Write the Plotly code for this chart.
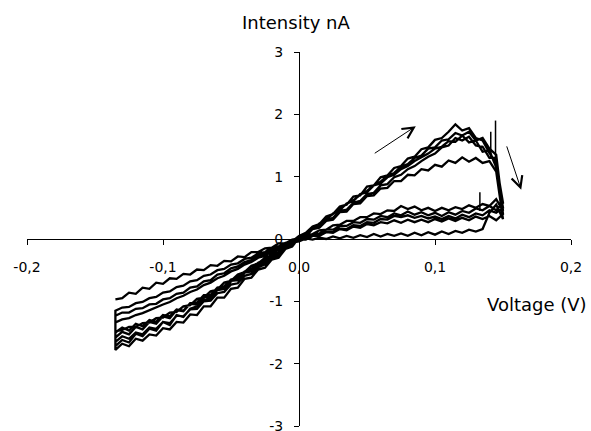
import plotly.graph_objects as go

# Voltage sweeps (V)
V_SWEEP_UP = [-0.135, -0.130, -0.125, -0.120, -0.115, -0.110, -0.105, -0.100, -0.095, -0.090,
              -0.085, -0.080, -0.075, -0.070, -0.065, -0.060, -0.055, -0.050, -0.045, -0.040,
              -0.035, -0.030, -0.025, -0.020, -0.015, -0.010, -0.005, 0.000, 0.005, 0.010,
              0.015, 0.020, 0.025, 0.030, 0.035, 0.040, 0.045, 0.050, 0.055, 0.060,
              0.065, 0.070, 0.075, 0.080, 0.085, 0.090, 0.095, 0.100, 0.105, 0.110,
              0.115, 0.120, 0.125, 0.130, 0.135, 0.140, 0.145, 0.150]
V_SWEEP_DOWN = [0.150, 0.145, 0.140, 0.135, 0.130, 0.125, 0.120, 0.115, 0.110, 0.105,
                0.100, 0.095, 0.090, 0.085, 0.080, 0.075, 0.070, 0.065, 0.060, 0.055,
                0.050, 0.045, 0.040, 0.035, 0.030, 0.025, 0.020, 0.015, 0.010, 0.005,
                0.000, -0.005, -0.010, -0.015, -0.020, -0.025, -0.030, -0.035, -0.040, -0.045,
                -0.050, -0.055, -0.060, -0.065, -0.070, -0.075, -0.080, -0.085, -0.090, -0.095,
                -0.100, -0.105, -0.110, -0.115, -0.120, -0.125, -0.130, -0.135]

# Current (nA), cycle by cycle
I_UP_1 = [-1.72, -1.62, -1.66, -1.52, -1.56, -1.44, -1.47, -1.33, -1.38, -1.22,
          -1.25, -1.12, -1.08, -0.98, -0.95, -0.82, -0.80, -0.68, -0.64, -0.52,
          -0.49, -0.38, -0.33, -0.24, -0.17, -0.08, -0.04, 0.05, 0.10, 0.20,
          0.24, 0.36, 0.40, 0.52, 0.55, 0.68, 0.70, 0.84, 0.86, 0.99,
          1.02, 1.14, 1.17, 1.29, 1.32, 1.44, 1.47, 1.59, 1.62, 1.72,
          1.84, 1.74, 1.78, 1.62, 1.58, 1.38, 1.22, 0.58]
I_DOWN_1 = [0.58, 0.46, 0.53, 0.46, 0.49, 0.42, 0.45, 0.39, 0.43, 0.37,
            0.42, 0.38, 0.43, 0.39, 0.44, 0.38, 0.41, 0.35, 0.37, 0.31,
            0.32, 0.26, 0.27, 0.21, 0.21, 0.15, 0.15, 0.09, 0.08, 0.03,
            0.02, -0.04, -0.06, -0.12, -0.14, -0.21, -0.23, -0.30, -0.32, -0.39,
            -0.41, -0.48, -0.50, -0.57, -0.59, -0.66, -0.68, -0.75, -0.77, -0.84,
            -0.86, -0.93, -0.95, -1.01, -1.03, -1.09, -1.10, -1.15]
I_UP_2 = [-1.50, -1.42, -1.47, -1.36, -1.40, -1.30, -1.33, -1.22, -1.24, -1.13,
          -1.15, -1.03, -1.02, -0.90, -0.90, -0.78, -0.76, -0.65, -0.62, -0.52,
          -0.48, -0.40, -0.35, -0.27, -0.22, -0.12, -0.09, 0.04, 0.07, 0.17,
          0.20, 0.30, 0.34, 0.45, 0.47, 0.58, 0.61, 0.72, 0.74, 0.86,
          0.88, 0.99, 1.03, 1.12, 1.17, 1.25, 1.32, 1.37, 1.47, 1.50,
          1.62, 1.58, 1.64, 1.50, 1.48, 1.30, 1.30, 0.40]
I_DOWN_2 = [0.40, 0.30, 0.37, 0.32, 0.36, 0.30, 0.34, 0.29, 0.33, 0.28,
            0.32, 0.27, 0.31, 0.27, 0.31, 0.26, 0.30, 0.25, 0.27, 0.22,
            0.24, 0.18, 0.20, 0.14, 0.16, 0.10, 0.11, 0.06, 0.07, 0.01,
            0.02, -0.05, -0.07, -0.14, -0.17, -0.24, -0.27, -0.34, -0.37, -0.44,
            -0.47, -0.55, -0.57, -0.66, -0.68, -0.76, -0.78, -0.86, -0.88, -0.95,
            -0.97, -1.04, -1.05, -1.11, -1.12, -1.18, -1.18, -1.23]
I_UP_3 = [-1.78, -1.68, -1.72, -1.60, -1.63, -1.53, -1.55, -1.43, -1.45, -1.33,
          -1.34, -1.21, -1.22, -1.08, -1.08, -0.94, -0.94, -0.80, -0.78, -0.64,
          -0.62, -0.49, -0.46, -0.33, -0.30, -0.16, -0.12, 0.02, 0.04, 0.16,
          0.18, 0.29, 0.31, 0.43, 0.44, 0.56, 0.57, 0.69, 0.70, 0.81,
          0.82, 0.93, 0.93, 1.03, 1.02, 1.12, 1.10, 1.19, 1.16, 1.26,
          1.22, 1.31, 1.24, 1.30, 1.22, 1.25, 1.08, 0.32]
I_DOWN_3 = [0.32, 0.55, 0.42, 0.16, 0.12, 0.15, 0.10, 0.13, 0.08, 0.12,
            0.07, 0.11, 0.06, 0.10, 0.05, 0.09, 0.05, 0.08, 0.04, 0.08,
            0.03, 0.06, 0.02, 0.05, 0.01, 0.04, 0.00, 0.02, -0.01, 0.01,
            -0.04, -0.06, -0.13, -0.17, -0.26, -0.30, -0.39, -0.43, -0.53, -0.57,
            -0.67, -0.70, -0.81, -0.84, -0.94, -0.96, -1.06, -1.08, -1.17, -1.18,
            -1.26, -1.27, -1.34, -1.35, -1.41, -1.41, -1.46, -1.48]
I_UP_5 = [-1.58, -1.49, -1.53, -1.41, -1.45, -1.33, -1.36, -1.24, -1.27, -1.14,
          -1.16, -1.04, -1.05, -0.93, -0.93, -0.80, -0.80, -0.67, -0.66, -0.54,
          -0.52, -0.41, -0.38, -0.28, -0.24, -0.14, -0.09, 0.02, 0.09, 0.16,
          0.25, 0.31, 0.41, 0.46, 0.57, 0.61, 0.72, 0.75, 0.86, 0.89,
          0.99, 1.03, 1.12, 1.17, 1.25, 1.31, 1.37, 1.45, 1.48, 1.57,
          1.56, 1.66, 1.55, 1.58, 1.40, 1.42, 1.15, 0.50]
I_DOWN_5 = [0.50, 0.42, 0.46, 0.38, 0.41, 0.35, 0.39, 0.33, 0.37, 0.32,
            0.36, 0.33, 0.37, 0.34, 0.38, 0.35, 0.37, 0.31, 0.32, 0.26,
            0.27, 0.21, 0.22, 0.16, 0.17, 0.11, 0.11, 0.05, 0.05, -0.01,
            -0.01, -0.08, -0.10, -0.17, -0.20, -0.27, -0.30, -0.37, -0.41, -0.48,
            -0.52, -0.59, -0.63, -0.70, -0.74, -0.81, -0.85, -0.91, -0.95, -1.01,
            -1.05, -1.10, -1.14, -1.19, -1.22, -1.27, -1.29, -1.34]
I_UP_4 = [-1.65, -1.56, -1.60, -1.50, -1.53, -1.42, -1.44, -1.33, -1.35, -1.23,
          -1.24, -1.13, -1.12, -1.00, -0.99, -0.87, -0.85, -0.73, -0.71, -0.59,
          -0.56, -0.45, -0.41, -0.31, -0.26, -0.16, -0.10, 0.03, 0.08, 0.18,
          0.24, 0.32, 0.40, 0.47, 0.56, 0.62, 0.71, 0.77, 0.86, 0.92,
          1.01, 1.06, 1.16, 1.20, 1.30, 1.34, 1.45, 1.47, 1.58, 1.60,
          1.70, 1.66, 1.72, 1.58, 1.62, 1.45, 1.35, 0.45]
I_DOWN_4 = [0.45, 0.64, 0.53, 0.56, 0.50, 0.54, 0.48, 0.51, 0.46, 0.50,
            0.45, 0.50, 0.46, 0.52, 0.48, 0.53, 0.45, 0.46, 0.40, 0.41,
            0.35, 0.35, 0.29, 0.29, 0.23, 0.22, 0.15, 0.14, 0.08, 0.06,
            0.01, -0.01, -0.07, -0.07, -0.14, -0.15, -0.21, -0.21, -0.29, -0.28,
            -0.36, -0.35, -0.43, -0.42, -0.50, -0.49, -0.57, -0.56, -0.64, -0.63,
            -0.72, -0.70, -0.80, -0.78, -0.88, -0.86, -0.95, -0.97]

# Isolated current spikes (V, nA start, nA end)
SPIKE_V = [0.1445, 0.1410, 0.1330]
SPIKE_I_LOW = [1.20, 1.30, 0.45]
SPIKE_I_HIGH = [1.90, 1.72, 0.75]

X_TICKS = [-0.2, -0.1, 0.0, 0.1, 0.2]
X_TICK_LABELS = ["-0,2", "-0,1", "0,0", "0,1", "0,2"]
Y_TICKS = [-3, -2, -1, 0, 1, 2, 3]
Y_TICK_LABELS = ["-3", "-2", "-1", "0", "1", "2", "3"]

cycles = [(I_UP_1, I_DOWN_1), (I_UP_2, I_DOWN_2), (I_UP_3, I_DOWN_3),
          (I_UP_5, I_DOWN_5), (I_UP_4, I_DOWN_4)]
xs, ys = [], []
for up, down in cycles:
    xs += V_SWEEP_UP + V_SWEEP_DOWN
    ys += up + down

sx, sy = [], []
for v, lo, hi in zip(SPIKE_V, SPIKE_I_LOW, SPIKE_I_HIGH):
    sx += [v, v, None]
    sy += [lo, hi, None]

FONT = "DejaVu Sans"

fig = go.Figure()
fig.add_trace(go.Scatter(x=xs, y=ys, mode="lines",
                         line=dict(color="black", width=2.3), showlegend=False,
                         hoverinfo="skip"))
fig.add_trace(go.Scatter(x=sx, y=sy, mode="lines",
                         line=dict(color="black", width=1.5), showlegend=False,
                         hoverinfo="skip"))

axis_common = dict(showgrid=False, zeroline=False, showline=True, linecolor="black",
                   linewidth=1.2, ticks="outside", ticklen=5, tickwidth=1.2,
                   tickcolor="black", anchor="free", position=0.5, automargin=False,
                   ticklabeloverflow="allow",
                   tickfont=dict(family=FONT, size=14, color="black"))

fig.update_layout(
    width=591, height=431,
    margin=dict(l=27, r=20, t=52, b=5, pad=0),
    paper_bgcolor="white", plot_bgcolor="white",
    template="none",
    xaxis=dict(range=[-0.2, 0.2], tickvals=X_TICKS, ticktext=X_TICK_LABELS,
               ticklabelstandoff=10, **axis_common),
    yaxis=dict(range=[-3, 3], tickvals=Y_TICKS, ticktext=Y_TICK_LABELS,
               ticklabelstandoff=8, **axis_common),
    annotations=[
        dict(text="Intensity nA", xref="paper", yref="paper", x=0.4945, y=1.08,
             xanchor="center", yanchor="middle", showarrow=False,
             font=dict(family=FONT, size=18, color="black")),
        dict(text="Voltage (V)", xref="paper", yref="paper", x=0.9366, y=0.326,
             xanchor="center", yanchor="middle", showarrow=False,
             font=dict(family=FONT, size=18, color="black")),
        dict(x=0.0859, y=1.81, ax=0.0546, ay=1.36, xref="x", yref="y",
             axref="x", ayref="y", showarrow=True, arrowhead=5, arrowsize=2.2,
             arrowwidth=1, arrowcolor="black", text=""),
        dict(x=0.1634, y=0.79, ax=0.1524, ay=1.51, xref="x", yref="y",
             axref="x", ayref="y", showarrow=True, arrowhead=5, arrowsize=2.2,
             arrowwidth=1, arrowcolor="black", text=""),
    ],
)

fig.write_html("out.html", config={"displayModeBar": False},
               post_script="document.body.style.margin='0px';")
